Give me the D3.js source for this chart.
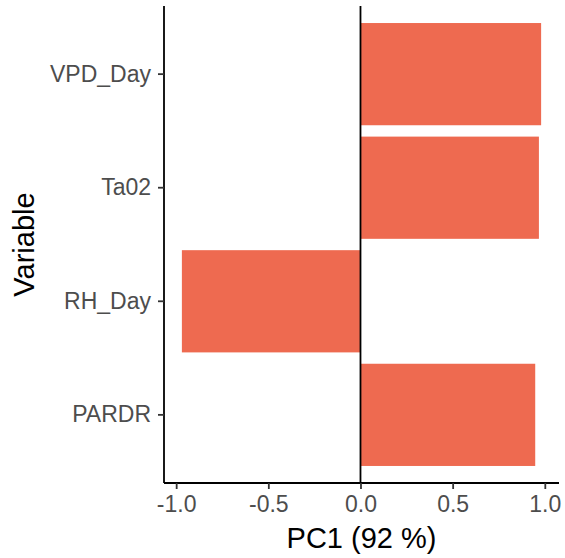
<!DOCTYPE html>
<html>
<head>
<meta charset="utf-8">
<script src="https://cdn.jsdelivr.net/npm/d3@7"></script>
<style>
  body { margin: 0; background: #fff; }
  svg { display: block; font-family: "Liberation Sans", Arial, sans-serif; }
</style>
</head>
<body>
<div id="chart"></div>
<script>
// loadings on PC1, top to bottom
const variables = ["VPD_Day", "Ta02", "RH_Day", "PARDR"];
const pc1 = [0.980, 0.968, -0.969, 0.948];
const xTicks = [-1.0, -0.5, 0.0, 0.5, 1.0];

const width = 565, height = 558;
const panel = { left: 164, right: 559, top: 6, bottom: 483 };

const svg = d3.select("#chart").append("svg")
    .attr("width", width)
    .attr("height", height);

const x = d3.scaleLinear()
    .domain([-1.066, 1.077])
    .range([panel.left, panel.right]);

const y = d3.scaleBand()
    .domain(variables)
    .range([panel.top, panel.bottom])
    .paddingInner(0.1)
    .paddingOuter(0.15);

// bars
svg.append("g")
    .selectAll("rect")
    .data(variables)
    .join("rect")
    .attr("x", (d, i) => x(Math.min(0, pc1[i])))
    .attr("width", (d, i) => Math.abs(x(pc1[i]) - x(0)))
    .attr("y", d => y(d))
    .attr("height", y.bandwidth())
    .attr("fill", "#EE6A50");

// zero line
svg.append("line")
    .attr("x1", x(0)).attr("x2", x(0))
    .attr("y1", panel.top).attr("y2", panel.bottom)
    .attr("stroke", "#000")
    .attr("stroke-width", 1.8);

// x axis (plain hyphen for negatives, like R)
const xAxis = svg.append("g")
    .attr("transform", "translate(0," + panel.bottom + ")")
    .call(d3.axisBottom(x).tickValues(xTicks).tickFormat(d => d.toFixed(1))
        .tickSize(6).tickPadding(7));

// y axis
const yAxis = svg.append("g")
    .attr("transform", "translate(" + panel.left + ",0)")
    .call(d3.axisLeft(y).tickSize(6).tickPadding(7));

[xAxis, yAxis].forEach(g => {
    g.select(".domain").attr("stroke", "#000").attr("stroke-width", 1.8);
    g.selectAll(".tick line").attr("stroke", "#333").attr("stroke-width", 1.8);
    g.selectAll(".tick text")
        .attr("fill", "#4D4D4D")
        .style("font-size", "23px");
});
// domain path spans the full panel, no outer ticks
xAxis.select(".domain").attr("d", "M" + panel.left + ",0H" + panel.right);
yAxis.select(".domain").attr("d", "M0," + panel.top + "V" + panel.bottom);

// axis titles
svg.append("text")
    .attr("x", (panel.left + panel.right) / 2)
    .attr("y", 548)
    .attr("text-anchor", "middle")
    .style("font-size", "29px")
    .text("PC1 (92 %)");

svg.append("text")
    .attr("transform", "translate(34," + (panel.top + panel.bottom) / 2 + ") rotate(-90)")
    .attr("text-anchor", "middle")
    .style("font-size", "29px")
    .text("Variable");
</script>
</body>
</html>
